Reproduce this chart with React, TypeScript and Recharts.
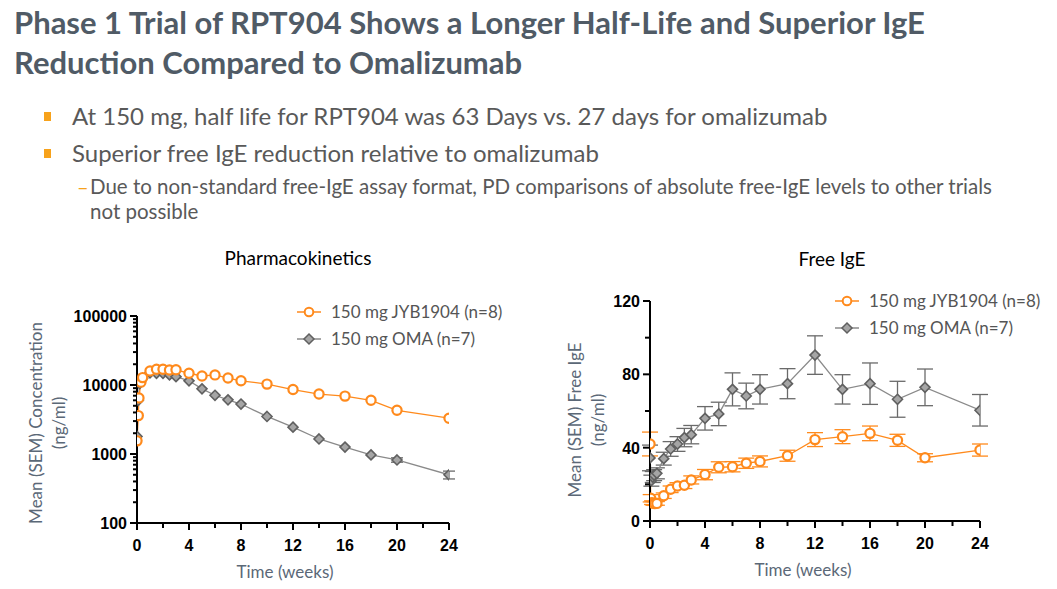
import React from "react";
import { ErrorBar, Line, LineChart, XAxis, YAxis } from "recharts";

// PK (ng/ml), log scale
const pkJybTime = [0, 0.1, 0.15, 0.3, 0.43, 1, 1.5, 2, 2.5, 3, 4, 5, 6, 7, 8, 10, 12, 14, 16, 18, 20, 24];
const pkJybConc = [1550, 3600, 6500, 11000, 12800, 16000, 16900, 16900, 16500, 16600, 14800, 13500, 14000, 12600, 11500, 10300, 8600, 7400, 6900, 6000, 4300, 3300];

const pkOmaTime = [0, 0.1, 0.2, 0.43, 1, 1.5, 2, 2.5, 3, 4, 5, 6, 7, 8, 10, 12, 14, 16, 18, 20, 24];
const pkOmaConc = [1800, 6000, 10500, 12500, 15000, 14800, 14800, 14000, 13200, 11500, 8800, 7100, 6100, 5300, 3500, 2450, 1650, 1260, 970, 820, 500];
// only the late points have SEM bars larger than the marker
const pkOmaErr = [null, null, null, null, null, null, null, null, null, null, null, null, null, null, null, null, null, null, null, 60, 65];

// Free IgE (ng/ml)
const igeJybTime = [0, 0.05, 0.15, 0.25, 0.35, 0.5, 1, 1.5, 2, 2.5, 3, 4, 5, 6, 7, 8, 10, 12, 14, 16, 18, 20, 24];
const igeJybVal = [42, 12.4, 10, 9.6, 9.5, 9.6, 13.8, 17.3, 19.1, 19.5, 22.4, 25.3, 29.3, 29.6, 31.5, 32.5, 35.6, 44.4, 46, 47.8, 44, 34.5, 38.7];
const igeJybErr = [6.5, 2, 1, 1, 1, 1, 1.5, 1.8, 1.8, 1.8, 2.2, 2.8, 3, 2.8, 2.8, 3, 3, 3.8, 3.8, 4, 3.3, 2.2, 3.3];

const igeOmaTime = [0, 0.1, 0.2, 0.3, 0.5, 1, 1.5, 2, 2.5, 3, 4, 5, 6, 7, 8, 10, 12, 14, 16, 18, 20, 24];
const igeOmaVal = [34.4, 22, 24, 25, 26, 34, 39.3, 42, 45.5, 47.1, 56, 58.4, 71.8, 68.2, 71.8, 74.9, 90.5, 71.8, 74.9, 66.4, 72.9, 60.4];
const igeOmaErr = [7, 3, 3, 3, 3, 3.5, 4, 4, 5, 5, 6.4, 6.4, 9, 7, 8, 8.2, 10.5, 8, 11.3, 9.8, 10, 8.6];

const xTicks = [0, 2, 4, 6, 8, 10, 12, 14, 16, 18, 20, 22, 24];
const pkTicks = [100, 200, 300, 400, 500, 600, 700, 800, 900, 1000, 2000, 3000, 4000, 5000, 6000, 7000, 8000, 9000, 10000, 20000, 30000, 40000, 50000, 60000, 70000, 80000, 90000, 100000];
const igeTicks = [0, 20, 40, 60, 80, 100, 120];

const seriesNames = ["150 mg JYB1904 (n=8)", "150 mg OMA (n=7)"];

const ORANGE = "#ff8a1c";
const GREY = "#8a8a8a";
const SLATE = "#5b6877";

const zip = (t: number[], v: number[], e?: (number | null)[]) =>
  t.map((x, i) => ({ t: x, v: v[i], e: e ? e[i] : null }));

function CircleDot(props: any) {
  const { cx, cy } = props;
  if (cx == null || cy == null) return null;
  return <circle cx={cx} cy={cy} r={4.6} fill="#fff" stroke={ORANGE} strokeWidth={2.2} />;
}

function DiamondDot(props: any) {
  const { cx, cy } = props;
  if (cx == null || cy == null) return null;
  const s = 5;
  return (
    <path
      d={`M${cx},${cy - s}L${cx + s},${cy}L${cx},${cy + s}L${cx - s},${cy}Z`}
      fill="#a5a5a5"
      stroke="#606060"
      strokeWidth={1.6}
    />
  );
}

function XTick(props: any) {
  const { x, y, payload } = props;
  const major = payload.value % 4 === 0;
  return (
    <g>
      <line x1={x} x2={x} y1={y} y2={y + (major ? 7 : 5)} stroke="#000" strokeWidth={2} />
      {major && (
        <text x={x} y={y + 28} textAnchor="middle" fontFamily="Arial, 'Liberation Sans'" fontWeight={700} fontSize={16} fill="#000">
          {payload.value}
        </text>
      )}
    </g>
  );
}

function LogTick(props: any) {
  const { x, y, payload } = props;
  const v = payload.value;
  const major = Math.abs(Math.log10(v) - Math.round(Math.log10(v))) < 1e-6;
  return (
    <g>
      <line x1={x - (major ? 7 : 4)} x2={x} y1={y} y2={y} stroke="#000" strokeWidth={2} />
      {major && (
        <text x={x - 10} y={y + 6} textAnchor="end" fontFamily="Arial, 'Liberation Sans'" fontWeight={700} fontSize={16} fill="#000">
          {v}
        </text>
      )}
    </g>
  );
}

function LinTick(props: any) {
  const { x, y, payload } = props;
  const major = payload.value % 40 === 0;
  return (
    <g>
      <line x1={x - (major ? 7 : 5)} x2={x} y1={y} y2={y} stroke="#000" strokeWidth={2} />
      {major && (
        <text x={x - 10} y={y + 6} textAnchor="end" fontFamily="Arial, 'Liberation Sans'" fontWeight={700} fontSize={16} fill="#000">
          {payload.value}
        </text>
      )}
    </g>
  );
}

function LegendBox({ x, y }: { x: number; y: number }) {
  return (
    <div style={{ position: "absolute", left: x, top: y, fontFamily: "Lato", fontSize: 17, color: "#555", whiteSpace: "nowrap" }}>
      {seriesNames.map((name, i) => (
        <div key={name} style={{ display: "flex", alignItems: "center", height: 27 }}>
          <svg width={30} height={14} style={{ marginRight: 6 }}>
            <line x1={2} x2={26} y1={7} y2={7} stroke={i === 0 ? ORANGE : GREY} strokeWidth={1.5} />
            {i === 0 ? (
              <circle cx={14} cy={7} r={4.3} fill="#fff" stroke={ORANGE} strokeWidth={2} />
            ) : (
              <path d="M14,2L19,7L14,12L9,7Z" fill="#a5a5a5" stroke="#606060" strokeWidth={1.5} />
            )}
          </svg>
          <span>{name}</span>
        </div>
      ))}
    </div>
  );
}

function Abs({ x, y, rotate, style, children }: { x: number; y: number; rotate?: boolean; style?: React.CSSProperties; children: React.ReactNode }) {
  return (
    <div
      style={{
        position: "absolute",
        left: x,
        top: y,
        whiteSpace: "nowrap",
        transform: `translate(-50%, -50%)${rotate ? " rotate(-90deg)" : ""}`,
        ...style
      }}
    >
      {children}
    </div>
  );
}

export default function App() {
  const pkJyb = zip(pkJybTime, pkJybConc);
  const pkOma = zip(pkOmaTime, pkOmaConc, pkOmaErr);
  const igeJyb = zip(igeJybTime, igeJybVal, igeJybErr);
  const igeOma = zip(igeOmaTime, igeOmaVal, igeOmaErr);

  const axisLine = { stroke: "#000", strokeWidth: 2 };
  const labelStyle: React.CSSProperties = { fontFamily: "Lato", fontSize: 17, color: SLATE };

  return (
    <div style={{ position: "absolute", left: 0, top: 0, width: 1057, height: 589, background: "#fff", overflow: "hidden", fontFamily: "Lato" }}>
      <div style={{ position: "absolute", left: 14, top: 2, fontWeight: 700, fontSize: 31, lineHeight: "40px", color: "#505b66" }}>
        Phase 1 Trial of RPT904 Shows a Longer Half-Life and Superior IgE
        <br />
        Reduction Compared to Omalizumab
      </div>

      <div style={{ position: "absolute", left: 44, top: 112, width: 7, height: 9, background: "#f7a21b" }} />
      <div style={{ position: "absolute", left: 72, top: 101, fontSize: 24, color: "#595959" }}>
        At 150 mg, half life for RPT904 was 63 Days vs. 27 days for omalizumab
      </div>
      <div style={{ position: "absolute", left: 44, top: 149, width: 7, height: 9, background: "#f7a21b" }} />
      <div style={{ position: "absolute", left: 72, top: 138, fontSize: 24, color: "#595959" }}>
        Superior free IgE reduction relative to omalizumab
      </div>
      <div style={{ position: "absolute", left: 77, top: 174, fontSize: 20, color: "#f7a21b" }}>–</div>
      <div style={{ position: "absolute", left: 90, top: 174, width: 945, fontSize: 20.5, lineHeight: "25px", color: "#595959" }}>
        Due to non-standard free-IgE assay format, PD comparisons of absolute free-IgE levels to other trials
        <br />
        not possible
      </div>

      <Abs x={298} y={257} style={{ fontSize: 19, color: "#000" }}>Pharmacokinetics</Abs>
      <Abs x={832} y={258} style={{ fontSize: 19, color: "#000" }}>Free IgE</Abs>

      <Abs x={35} y={423} rotate style={labelStyle}>Mean (SEM) Concentration</Abs>
      <Abs x={58} y={423} rotate style={labelStyle}>(ng/ml)</Abs>
      <Abs x={285} y={571} style={labelStyle}>Time (weeks)</Abs>

      <Abs x={574} y={420} rotate style={labelStyle}>Mean (SEM) Free IgE</Abs>
      <Abs x={597} y={420} rotate style={labelStyle}>(ng/ml)</Abs>
      <Abs x={803} y={569} style={labelStyle}>Time (weeks)</Abs>

      <div style={{ position: "absolute", left: 0, top: 290 }}>
        <LineChart width={480} height={299} margin={{ top: 26, right: 31, bottom: 36, left: 77 }}>
          <XAxis
            dataKey="t"
            type="number"
            domain={[0, 24]}
            ticks={xTicks}
            interval={0}
            allowDataOverflow
            axisLine={axisLine}
            tickLine={false}
            tickSize={0}
            tickMargin={0}
            tick={<XTick />}
            height={30}
          />
          <YAxis
            type="number"
            scale="log"
            domain={[100, 100000]}
            ticks={pkTicks}
            interval={0}
            allowDataOverflow
            axisLine={axisLine}
            tickLine={false}
            tickSize={0}
            tickMargin={0}
            tick={<LogTick />}
            width={60}
          />
          <Line data={pkOma} dataKey="v" stroke={GREY} strokeWidth={1.3} dot={<DiamondDot />} isAnimationActive={false}>
            <ErrorBar dataKey="e" direction="y" width={6} stroke="#6a6a6a" strokeWidth={1.3} />
          </Line>
          <Line data={pkJyb} dataKey="v" stroke={ORANGE} strokeWidth={1.3} dot={<CircleDot />} isAnimationActive={false} />
        </LineChart>
      </div>
      <LegendBox x={295} y={298} />

      <div style={{ position: "absolute", left: 540, top: 275 }}>
        <LineChart width={517} height={314} margin={{ top: 26, right: 77, bottom: 38, left: 50 }}>
          <XAxis
            dataKey="t"
            type="number"
            domain={[0, 24]}
            ticks={xTicks}
            interval={0}
            allowDataOverflow
            axisLine={axisLine}
            tickLine={false}
            tickSize={0}
            tickMargin={0}
            tick={<XTick />}
            height={30}
          />
          <YAxis
            type="number"
            domain={[0, 120]}
            ticks={igeTicks}
            interval={0}
            allowDataOverflow
            axisLine={axisLine}
            tickLine={false}
            tickSize={0}
            tickMargin={0}
            tick={<LinTick />}
            width={60}
          />
          <Line data={igeOma} dataKey="v" stroke={GREY} strokeWidth={1.3} dot={<DiamondDot />} isAnimationActive={false}>
            <ErrorBar dataKey="e" direction="y" width={8} stroke="#6a6a6a" strokeWidth={1.3} />
          </Line>
          <Line data={igeJyb} dataKey="v" stroke={ORANGE} strokeWidth={1.3} dot={<CircleDot />} isAnimationActive={false}>
            <ErrorBar dataKey="e" direction="y" width={8} stroke={ORANGE} strokeWidth={1.3} />
          </Line>
        </LineChart>
      </div>
      <LegendBox x={833} y={287} />
    </div>
  );
}
